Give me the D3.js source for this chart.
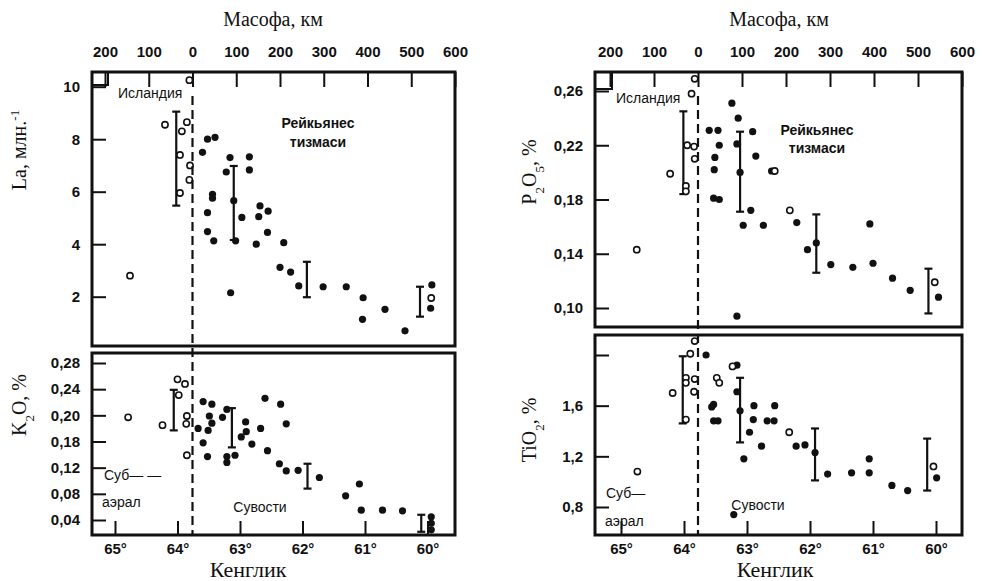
<!DOCTYPE html>
<meta charset="utf-8">
<style>
  body { margin: 0; background: #fff; }
  .num { font-family: "Liberation Sans Narrow", "Liberation Sans", sans-serif; font-weight: bold; font-size: 15px; fill: #111; }
  .ser { font-family: "Liberation Serif", serif; fill: #111; }
  .note { font-family: "Liberation Sans", sans-serif; font-size: 14px; fill: #111; }
  .axis .domain { display: none; }
  .axis line { stroke: #111; stroke-width: 2; }
</style>
<body>
<div id="chart"></div>
<script src="https://d3js.org/d3.v7.min.js"></script>
<script>
// ---- axes
var latTicks = [65, 64, 63, 62, 61, 60];
var latLabels = ["65°", "64°", "63°", "62°", "61°", "60°"];
var kmTicks = [-200, -100, 0, 100, 200, 300, 400, 500, 600];
var kmLabels = ["200", "100", "0", "100", "200", "300", "400", "500", "600"];

// ---- La, ppm  [latitude, value]
var laTicks = [2, 4, 6, 8, 10];
var laLabels = ["2", "4", "6", "8", "10"];
var laOpen = [[64.2, 8.55], [63.85, 8.65], [63.93, 8.3], [63.96, 7.4], [63.96, 5.95], [63.8, 7.0],
  [63.81, 6.45], [64.76, 2.8], [63.81, 10.25], [59.94, 1.95]];
var laFilled = [[63.6, 7.5], [63.52, 8.0], [63.4, 8.07], [63.16, 7.3], [63.22, 6.75], [62.85, 7.33],
  [62.85, 6.83], [63.44, 5.9], [63.44, 5.75], [63.52, 5.2], [63.52, 4.48], [63.42, 4.13], [63.07, 4.13],
  [62.97, 5.02], [62.68, 5.46], [62.7, 5.05], [62.55, 5.26], [62.56, 4.45], [62.74, 4.0], [62.3, 4.06],
  [62.36, 3.12], [62.19, 2.94], [62.06, 2.41], [61.67, 2.38], [61.3, 2.38], [61.03, 1.96], [61.04, 1.14],
  [60.68, 1.52], [60.36, 0.7], [63.15, 2.15], [59.93, 2.45], [59.95, 1.56], [63.1, 5.66]];
var laBars = [[64.02, 5.47, 9.05], [63.1, 4.16, 6.98], [61.93, 1.98, 3.33], [60.12, 1.24, 2.38]];

// ---- K2O, %
var kTicks = [0.04, 0.08, 0.12, 0.16, 0.20, 0.24, 0.28];
var kLabels = ["0,04", "0,08", "0,12", "0,18", "0,20", "0,24", "0,28"];
var kOpen = [[64.79, 0.197], [64.24, 0.185], [64.0, 0.255], [63.88, 0.248], [63.98, 0.231], [63.85, 0.199],
  [63.86, 0.187], [63.85, 0.139]];
var kFilled = [[63.59, 0.221], [63.45, 0.217], [63.49, 0.199], [63.45, 0.188], [63.67, 0.18], [63.51, 0.177],
  [63.59, 0.158], [63.52, 0.137], [63.28, 0.197], [63.21, 0.209], [63.21, 0.137], [63.21, 0.128],
  [63.08, 0.139], [62.91, 0.19], [62.9, 0.175], [62.98, 0.167], [62.81, 0.156], [62.67, 0.18], [62.6, 0.226],
  [62.35, 0.217], [62.26, 0.187], [62.56, 0.146], [62.37, 0.126], [62.26, 0.115], [62.07, 0.116],
  [61.73, 0.105], [61.31, 0.077], [61.09, 0.095], [61.06, 0.055], [60.72, 0.055], [60.4, 0.054],
  [59.94, 0.045], [59.94, 0.035], [59.94, 0.025]];
var kBars = [[64.06, 0.177, 0.239], [63.13, 0.151, 0.211], [61.92, 0.088, 0.126], [60.1, 0.022, 0.048]];

// ---- P2O5, %
var pTicks = [0.10, 0.14, 0.18, 0.22, 0.26];
var pLabels = ["0,10", "0,14", "0,18", "0,22", "0,26"];
var pOpen = [[63.83, 0.269], [63.88, 0.258], [64.22, 0.199], [64.75, 0.143], [63.95, 0.220], [63.84, 0.219],
  [63.83, 0.210], [63.97, 0.190], [63.97, 0.186], [62.56, 0.201], [62.32, 0.172], [60.02, 0.119]];
var pFilled = [[63.6, 0.231], [63.46, 0.231], [63.44, 0.220], [63.51, 0.211], [63.52, 0.202], [63.53, 0.181],
  [63.44, 0.180], [63.24, 0.251], [63.14, 0.240], [63.16, 0.221], [62.91, 0.230], [62.86, 0.212],
  [62.94, 0.172], [63.06, 0.161], [62.74, 0.161], [63.16, 0.094], [62.61, 0.201], [62.21, 0.163],
  [62.04, 0.143], [61.67, 0.132], [61.32, 0.130], [61.05, 0.162], [61.0, 0.133], [60.69, 0.122],
  [60.41, 0.113], [59.96, 0.108], [63.11, 0.2], [61.9, 0.148]];
var pBars = [[64.01, 0.184, 0.245], [63.11, 0.171, 0.230], [61.9, 0.126, 0.169], [60.12, 0.096, 0.129]];

// ---- TiO2, %
var tTicks = [0.8, 1.2, 1.6, 2.0];
var tLabels = ["0,8", "1,2", "1,6", ""];
var tOpen = [[63.83, 2.11], [63.9, 2.01], [64.18, 1.70], [64.74, 1.08], [63.97, 1.82], [63.83, 1.81],
  [63.97, 1.78], [63.84, 1.71], [63.97, 1.49], [63.48, 1.82], [63.44, 1.78], [63.23, 1.91], [62.33, 1.39],
  [60.04, 1.12]];
var tFilled = [[63.65, 2.0], [63.53, 1.61], [63.56, 1.59], [63.53, 1.48], [63.46, 1.48], [63.16, 1.92],
  [63.16, 1.71], [63.11, 1.56], [62.89, 1.60], [62.9, 1.49], [62.96, 1.39], [63.05, 1.18], [62.77, 1.28],
  [62.56, 1.60], [62.68, 1.48], [62.57, 1.48], [62.22, 1.28], [62.08, 1.29], [61.92, 1.23], [61.72, 1.06],
  [61.34, 1.07], [61.06, 1.18], [61.06, 1.07], [60.7, 0.97], [60.45, 0.93], [63.21, 0.74], [59.99, 1.03]];
var tBars = [[64.02, 1.46, 1.99], [63.11, 1.31, 1.82], [61.92, 1.01, 1.42], [60.14, 0.93, 1.34]];

var svg = d3.select("#chart").append("svg").attr("width", 983).attr("height", 581);

function fmt(labels, ticks) {
  return function (d) { return labels[ticks.indexOf(d)]; };
}

function column(c) {
  var lat = d3.scaleLinear().domain([65, 60]).range(c.latRange);
  var km = d3.scaleLinear().domain([-200, 600]).range(c.kmRange);

  // top km axis
  svg.append("g").attr("class", "axis num")
    .attr("transform", "translate(0," + c.top + ")")
    .call(d3.axisTop(km).tickValues(kmTicks).tickSizeInner(-15).tickSizeOuter(0).tickPadding(15)
      .tickFormat(fmt(kmLabels, kmTicks)))
    .call(function (g) { g.selectAll("text").attr("class", "num"); });

  // bottom latitude axis
  svg.append("g").attr("class", "axis")
    .attr("transform", "translate(0," + c.bottom + ")")
    .call(d3.axisBottom(lat).tickValues(latTicks).tickSizeInner(-14).tickSizeOuter(0).tickPadding(8)
      .tickFormat(fmt(latLabels, latTicks)))
    .call(function (g) { g.selectAll("text").attr("class", "num"); });

  c.panels.forEach(function (p) {
    var y = d3.scaleLinear().domain(p.domain).range(p.range);
    svg.append("g").attr("class", "axis")
      .attr("transform", "translate(" + c.x0 + ",0)")
      .call(d3.axisLeft(y).tickValues(p.ticks).tickSizeInner(-14).tickSizeOuter(0).tickPadding(12)
        .tickFormat(fmt(p.labels, p.ticks)))
      .call(function (g) { g.selectAll("text").attr("class", "num"); });

    svg.append("rect")
      .attr("x", c.x0).attr("y", p.y0)
      .attr("width", c.x1 - c.x0).attr("height", p.y1 - p.y0)
      .attr("fill", "none").attr("stroke", "#111").attr("stroke-width", 3);

    var bars = svg.append("g").selectAll("g").data(p.bars).enter().append("g")
      .attr("stroke", "#111").attr("stroke-width", 2.2);
    bars.append("line")
      .attr("x1", function (d) { return lat(d[0]); }).attr("x2", function (d) { return lat(d[0]); })
      .attr("y1", function (d) { return y(d[1]); }).attr("y2", function (d) { return y(d[2]); });
    [1, 2].forEach(function (k) {
      bars.append("line")
        .attr("x1", function (d) { return lat(d[0]) - 4; }).attr("x2", function (d) { return lat(d[0]) + 4; })
        .attr("y1", function (d) { return y(d[k]); }).attr("y2", function (d) { return y(d[k]); });
    });

    svg.append("g").selectAll("circle").data(p.filled).enter().append("circle")
      .attr("cx", function (d) { return lat(d[0]); })
      .attr("cy", function (d) { return y(d[1]); })
      .attr("r", 3.6).attr("fill", "#111");

    svg.append("g").selectAll("circle").data(p.open).enter().append("circle")
      .attr("cx", function (d) { return lat(d[0]); })
      .attr("cy", function (d) { return y(d[1]); })
      .attr("r", 3.1).attr("fill", "#fff").attr("stroke", "#111").attr("stroke-width", 1.6);
  });

  // corner box
  svg.append("rect").attr("x", c.x0).attr("y", c.top)
    .attr("width", c.box[0]).attr("height", c.box[1])
    .attr("fill", "none").attr("stroke", "#111").attr("stroke-width", 2);

  // Iceland coast line (0 km)
  svg.append("line")
    .attr("x1", km(0)).attr("x2", km(0))
    .attr("y1", c.top + 24).attr("y2", c.bottom)
    .attr("stroke", "#111").attr("stroke-width", 2.2).attr("stroke-dasharray", "9,5");

  svg.append("text").attr("class", "ser").attr("x", c.cx).attr("y", 26)
    .attr("text-anchor", "middle").style("font-size", "20px").text("Масофа, км");
  svg.append("text").attr("class", "ser").attr("x", c.kx).attr("y", 577)
    .attr("text-anchor", "middle").style("font-size", "22px").text("Кенглик");

  c.notes.forEach(function (n) {
    svg.append("text").attr("class", "note").attr("x", n[0]).attr("y", n[1])
      .attr("text-anchor", n[3] || "start").style("font-weight", n[4] || "normal").text(n[2]);
  });

  c.titles.forEach(function (tt) {
    var t = svg.append("text").attr("class", "ser").style("font-size", "20px")
      .attr("text-anchor", "middle")
      .attr("transform", "translate(" + tt[0] + "," + tt[1] + ") rotate(-90)");
    tt[2].forEach(function (s) {
      var sp = t.append("tspan").text(s[0]);
      if (s[1]) sp.attr("baseline-shift", s[1]).style("font-size", "13px");
    });
  });
}

column({
  x0: 92, x1: 455, top: 72, bottom: 535,
  latRange: [115, 427.5], kmRange: [105, 455], box: [16, 13], cx: 273, kx: 248,
  panels: [
    { domain: [2, 10], range: [296.7, 86.7], y0: 72, y1: 346, ticks: laTicks, labels: laLabels,
      open: laOpen, filled: laFilled, bars: laBars },
    { domain: [0.04, 0.28], range: [520, 363], y0: 353, y1: 535, ticks: kTicks, labels: kLabels,
      open: kOpen, filled: kFilled, bars: kBars }
  ],
  notes: [[118, 98, "Исландия"], [318, 128, "Рейкьянес", "middle", "bold"], [318, 147, "тизмаси", "middle", "bold"],
    [104, 480, "Суб— —"], [102, 507, "аэрал"], [260, 512, "Сувости", "middle"]],
  titles: [[26, 150, [["La, млн."], ["-1", "super"]]], [26, 405, [["K"], ["2", "sub"], ["O,  %"]]]]
});

column({
  x0: 595, x1: 962, top: 72, bottom: 535,
  latRange: [621, 936], kmRange: [610, 962], box: [17, 17], cx: 779, kx: 775,
  panels: [
    { domain: [0.10, 0.26], range: [308, 91], y0: 72, y1: 327, ticks: pTicks, labels: pLabels,
      open: pOpen, filled: pFilled, bars: pBars },
    { domain: [0.8, 2.0], range: [507, 355], y0: 335, y1: 535, ticks: tTicks, labels: tLabels,
      open: tOpen, filled: tFilled, bars: tBars }
  ],
  notes: [[616, 103, "Исландия"], [817, 135, "Рейкьянес", "middle", "bold"], [817, 153, "тизмаси", "middle", "bold"],
    [606, 498, "Суб—"], [605, 526, "аэрал"], [758, 510, "Сувости", "middle"]],
  titles: [[536, 172, [["P"], ["2", "sub"], ["O"], ["5", "sub"], [",  %"]]],
    [536, 430, [["TiO"], ["2", "sub"], [",  %"]]]]
});
</script>
</body>
